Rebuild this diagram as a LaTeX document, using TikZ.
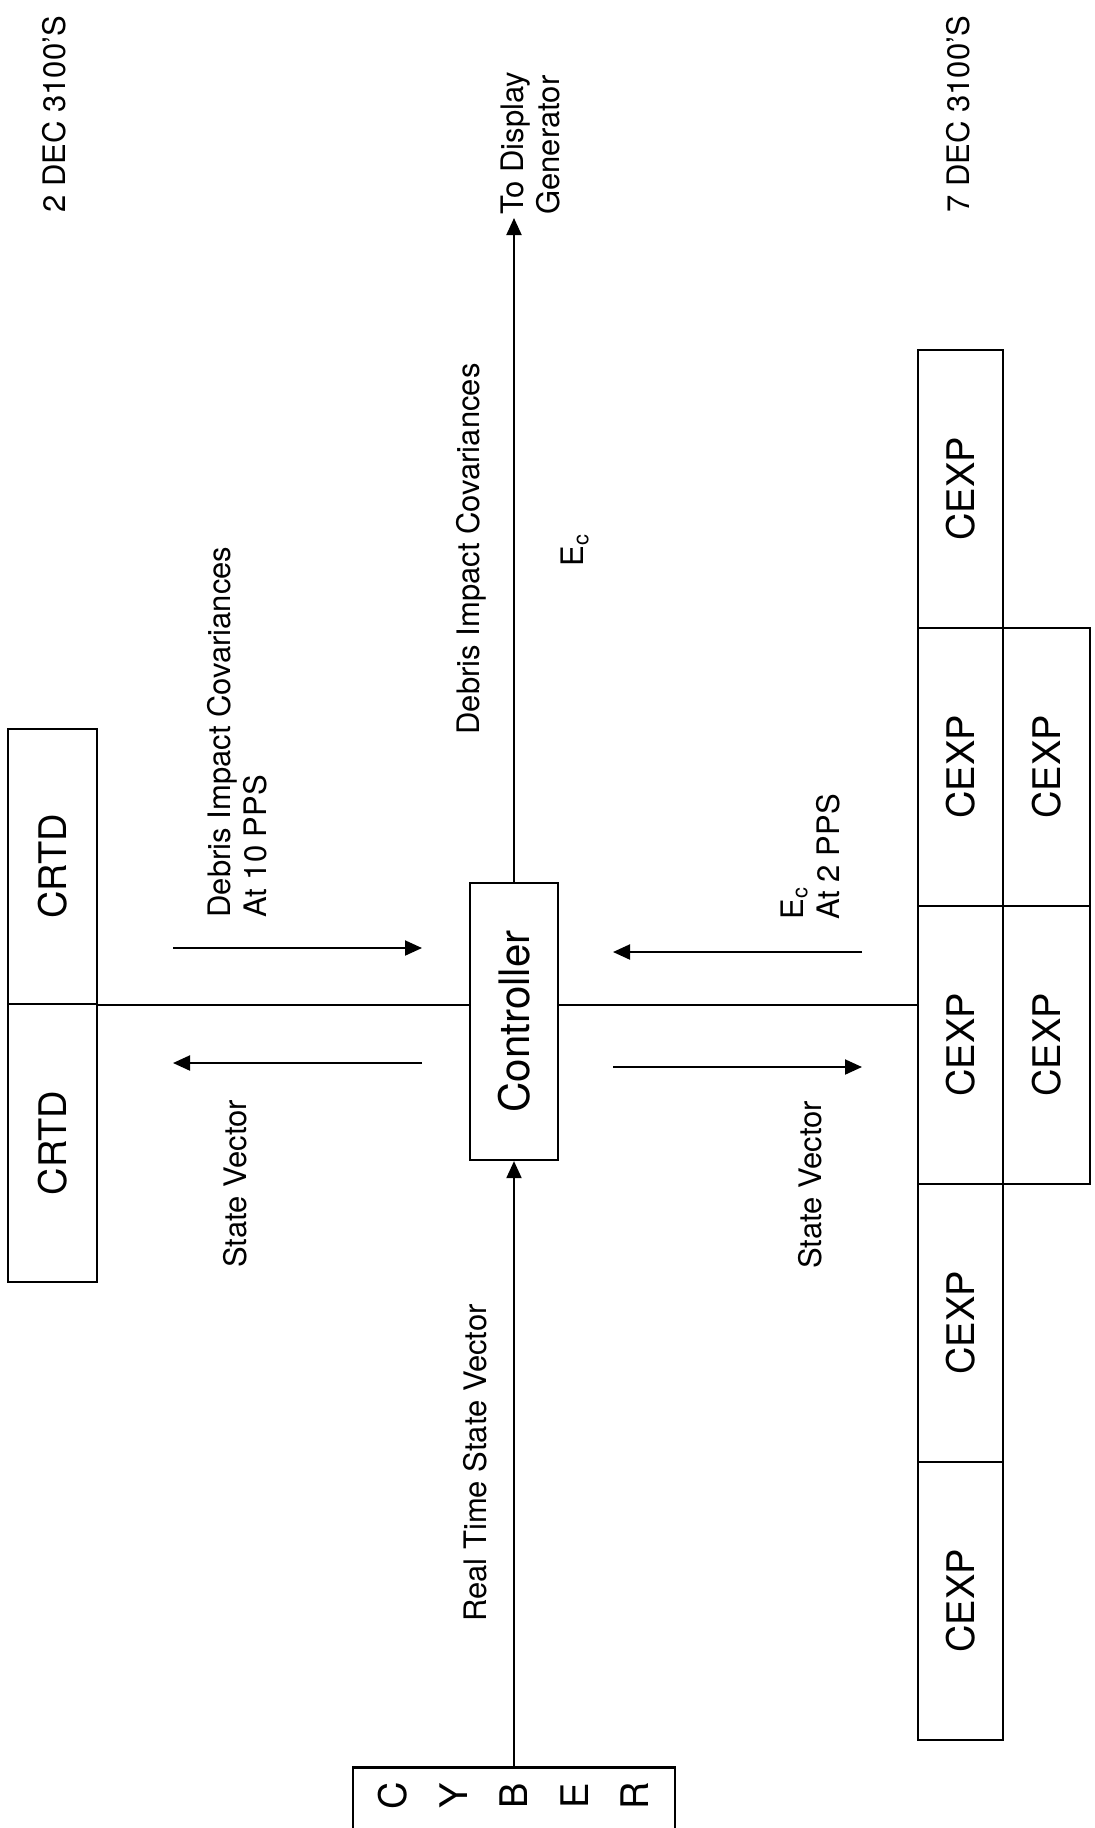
\documentclass[tikz,border=0pt]{standalone}
\usepackage{fontspec}
\setmainfont{TeX Gyre Heros}
\usetikzlibrary{arrows.meta}
\begin{document}
\begin{tikzpicture}[x=0.5pt,y=-0.5pt,
  ln/.style={line width=1pt},
  arr/.style={line width=1pt,-{Triangle[length=8.5pt,width=7.5pt]}},
  box/.style={draw,line width=1.1pt,fill=white,inner sep=0pt},
  lbl/.style={font=\fontsize{15.5}{18}\selectfont,rotate=90,inner sep=0pt},
  boxtxt/.style={font=\fontsize{19}{21}\selectfont},
  cyl/.style={font=\fontsize{19}{20}\selectfont,inner sep=0pt}]
\useasboundingbox (0,0) rectangle (1094,1828);
\fill[white] (0,0) rectangle (1094,1828);

% CRTD boxes
\node[box,boxtxt,minimum width=44.5pt,minimum height=137.5pt] (crtdA) at (52.5,866.5) {\rotatebox{90}{CRTD}};
\node[box,boxtxt,minimum width=44.5pt,minimum height=139pt] (crtdB) at (52.5,1143) {\rotatebox{90}{CRTD}};

% CEXP boxes
\node[box,boxtxt,minimum width=42.5pt,minimum height=139pt] (cexp1) at (960.5,489) {\rotatebox{90}{CEXP}};
\node[box,boxtxt,minimum width=42.5pt,minimum height=139pt] (cexp2) at (960.5,767) {\rotatebox{90}{CEXP}};
\node[box,boxtxt,minimum width=42.5pt,minimum height=139pt] (cexp3) at (960.5,1045) {\rotatebox{90}{CEXP}};
\node[box,boxtxt,minimum width=42.5pt,minimum height=139pt] (cexp4) at (960.5,1323) {\rotatebox{90}{CEXP}};
\node[box,boxtxt,minimum width=42.5pt,minimum height=139pt] (cexp5) at (960.5,1601) {\rotatebox{90}{CEXP}};
\node[box,boxtxt,minimum width=43.5pt,minimum height=139pt] (cexp6) at (1046.5,767) {\rotatebox{90}{CEXP}};
\node[box,boxtxt,minimum width=43.5pt,minimum height=139pt] (cexp7) at (1046.5,1045) {\rotatebox{90}{CEXP}};

% Controller
\node[box,font=\fontsize{21}{24}\selectfont,minimum width=44pt,minimum height=138.5pt] (ctrl) at (514,1021.5) {\rotatebox{90}{Controller}};

% CYBER
\node[box,minimum width=161pt,minimum height=43pt] (cyber) at (514,1810.5) {};
\foreach \L [count=\i from 0] in {C,Y,B,E,R}
  \node[cyl] (cy\i) at (393+60.5*\i,1796) {\rotatebox{90}{\L}};

% main horizontal bus
\draw[ln] (crtdA.south east) -- (crtdA.south east -| ctrl.west);
\draw[ln] (crtdA.south east -| ctrl.east) -- (crtdA.south east -| cexp3.west);

% main vertical
\coordinate (disp) at (514,218);
\draw[arr] (cyber.north) -- (ctrl.south);
\draw[arr] (ctrl.north) -- (disp);

% side arrows
\coordinate (ula) at (173,948);  \coordinate (ulb) at (422,948);
\coordinate (lla) at (422,1063); \coordinate (llb) at (173,1063);
\coordinate (ura) at (862,952);  \coordinate (urb) at (613,952);
\coordinate (lra) at (613,1067); \coordinate (lrb) at (862,1067);
\draw[arr] (ula) -- (ulb);
\draw[arr] (lla) -- (llb);
\draw[arr] (ura) -- (urb);
\draw[arr] (lra) -- (lrb);

% labels
\node[lbl,anchor=west,align=left] (lblUL) at (237,918) {Debris Impact Covariances\\At 10 PPS};
\node[lbl] (lblLL) at (235.5,1184) {State Vector};
\node[lbl,anchor=west,align=left] (lblUR) at (810,920) {E\textsubscript{c}\\At 2 PPS};
\node[lbl] (lblLR) at (810.5,1185) {State Vector};
\node[lbl] (lblDIC) at (471,549) {Debris Impact Covariances};
\node[lbl] (lblEc) at (575,550) {E\textsubscript{c}};
\node[lbl] (lblRT) at (475.5,1463) {Real Time State Vector};
\node[lbl,anchor=west,align=left] (lblTD) at (530,215) {To Display\\Generator};
\node[lbl,anchor=west] (lbl7) at (958,213) {7 DEC 3100'S};
\node[lbl,anchor=west] (lbl2) at (54,213) {2 DEC 3100'S};
\end{tikzpicture}
\end{document}
